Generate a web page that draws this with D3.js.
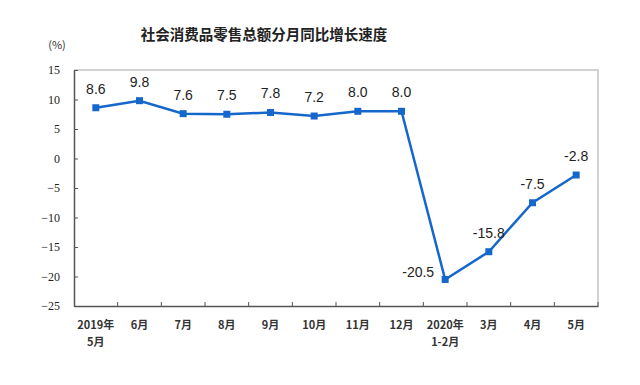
<!DOCTYPE html>
<html>
<head>
<meta charset="utf-8">
<script src="https://cdn.jsdelivr.net/npm/d3@7"></script>
<style>
  body { margin: 0; background: #fff; }
</style>
</head>
<body>
<svg id="chart" width="640" height="385"></svg>
<script>
// month labels (second line after \n)
var months = ["2019年\n5月", "6月", "7月", "8月", "9月", "10月", "11月", "12月", "2020年\n1-2月", "3月", "4月", "5月"];
var growth = [8.6, 9.8, 7.6, 7.5, 7.8, 7.2, 8.0, 8.0, -20.5, -15.8, -7.5, -2.8];
var yTicks = [15, 10, 5, 0, -5, -10, -15, -20, -25];

var svg = d3.select("#chart");
var plotL = 74, plotR = 598, plotT = 70, plotB = 306;
var blue = "#1567cc";

var x = d3.scaleBand().domain(months).range([plotL, plotR]);
var y = d3.scaleLinear().domain([-25, 15]).range([plotB, plotT]);

svg.append("text")
    .attr("x", 264).attr("y", 40)
    .attr("text-anchor", "middle")
    .style("font-family", "'Noto Sans CJK SC'")
    .style("font-size", "14.5px")
    .style("font-weight", "bold")
    .style("fill", "#222")
    .text("社会消费品零售总额分月同比增长速度");

svg.append("text")
    .attr("x", 57).attr("y", 49)
    .attr("text-anchor", "middle")
    .style("font-family", "'Noto Sans CJK SC'")
    .style("font-size", "11px")
    .style("fill", "#333")
    .text("(%)");

// light frame on top and right
svg.append("path")
    .attr("d", "M" + plotL + "," + plotT + "H" + plotR + "V" + plotB)
    .style("fill", "none")
    .style("stroke", "#c4c4c4")
    .style("stroke-width", 1.5);

var yAxis = svg.append("g")
    .attr("transform", "translate(" + plotL + ",0)")
    .call(d3.axisLeft(y).tickValues(yTicks).tickSizeInner(-4).tickSizeOuter(0).tickPadding(14));
yAxis.select(".domain").style("stroke", "#555").style("stroke-width", 1.5);
yAxis.selectAll(".tick line").style("stroke", "#555");
yAxis.selectAll("text")
    .style("font-family", "'Liberation Serif'")
    .style("font-size", "12px")
    .style("fill", "#222");

var xAxis = svg.append("g")
    .attr("transform", "translate(0," + plotB + ")")
    .call(d3.axisBottom(x).tickSize(0).tickFormat(""));
xAxis.select(".domain").style("stroke", "#555").style("stroke-width", 1.5);

// ticks sit between categories, pointing up
xAxis.selectAll(".sep")
    .data(months)
    .enter().append("line")
    .attr("class", "sep")
    .attr("x1", function(d) { return x(d) + x.bandwidth(); })
    .attr("x2", function(d) { return x(d) + x.bandwidth(); })
    .attr("y1", 0).attr("y2", -4)
    .style("stroke", "#555");

var xl = svg.append("g").selectAll("text")
    .data(months)
    .enter().append("text")
    .attr("x", function(d) { return x(d) + x.bandwidth() / 2; })
    .attr("y", 329)
    .attr("text-anchor", "middle")
    .style("font-family", "'Noto Sans CJK SC'")
    .style("font-size", "11px")
    .style("font-weight", "bold")
    .style("fill", "#333");
xl.each(function(d) {
  var parts = d.split("\n");
  var t = d3.select(this);
  parts.forEach(function(p, i) {
    t.append("tspan")
      .attr("x", t.attr("x"))
      .attr("dy", i == 0 ? 0 : 17)
      .text(p);
  });
});

var line = d3.line()
    .x(function(d, i) { return x(months[i]) + x.bandwidth() / 2; })
    .y(function(d) { return y(d); });

svg.append("path")
    .datum(growth)
    .attr("d", line)
    .style("fill", "none")
    .style("stroke", blue)
    .style("stroke-width", 2.5);

svg.selectAll(".pt")
    .data(growth)
    .enter().append("rect")
    .attr("class", "pt")
    .attr("x", function(d, i) { return x(months[i]) + x.bandwidth() / 2 - 3.5; })
    .attr("y", function(d) { return y(d) - 3.5; })
    .attr("width", 7).attr("height", 7)
    .style("fill", blue);

svg.selectAll(".lbl")
    .data(growth)
    .enter().append("text")
    .attr("class", "lbl")
    .attr("x", function(d, i) {
      var cx = x(months[i]) + x.bandwidth() / 2;
      return d < -20 ? cx - 11 : cx;
    })
    .attr("y", function(d) { return d < -20 ? y(d) - 2 : y(d) - 14; })
    .attr("text-anchor", function(d) { return d < -20 ? "end" : "middle"; })
    .style("font-family", "'Liberation Sans'")
    .style("font-size", "14px")
    .style("fill", "#222")
    .text(function(d) { return d.toFixed(1); });
</script>
</body>
</html>
